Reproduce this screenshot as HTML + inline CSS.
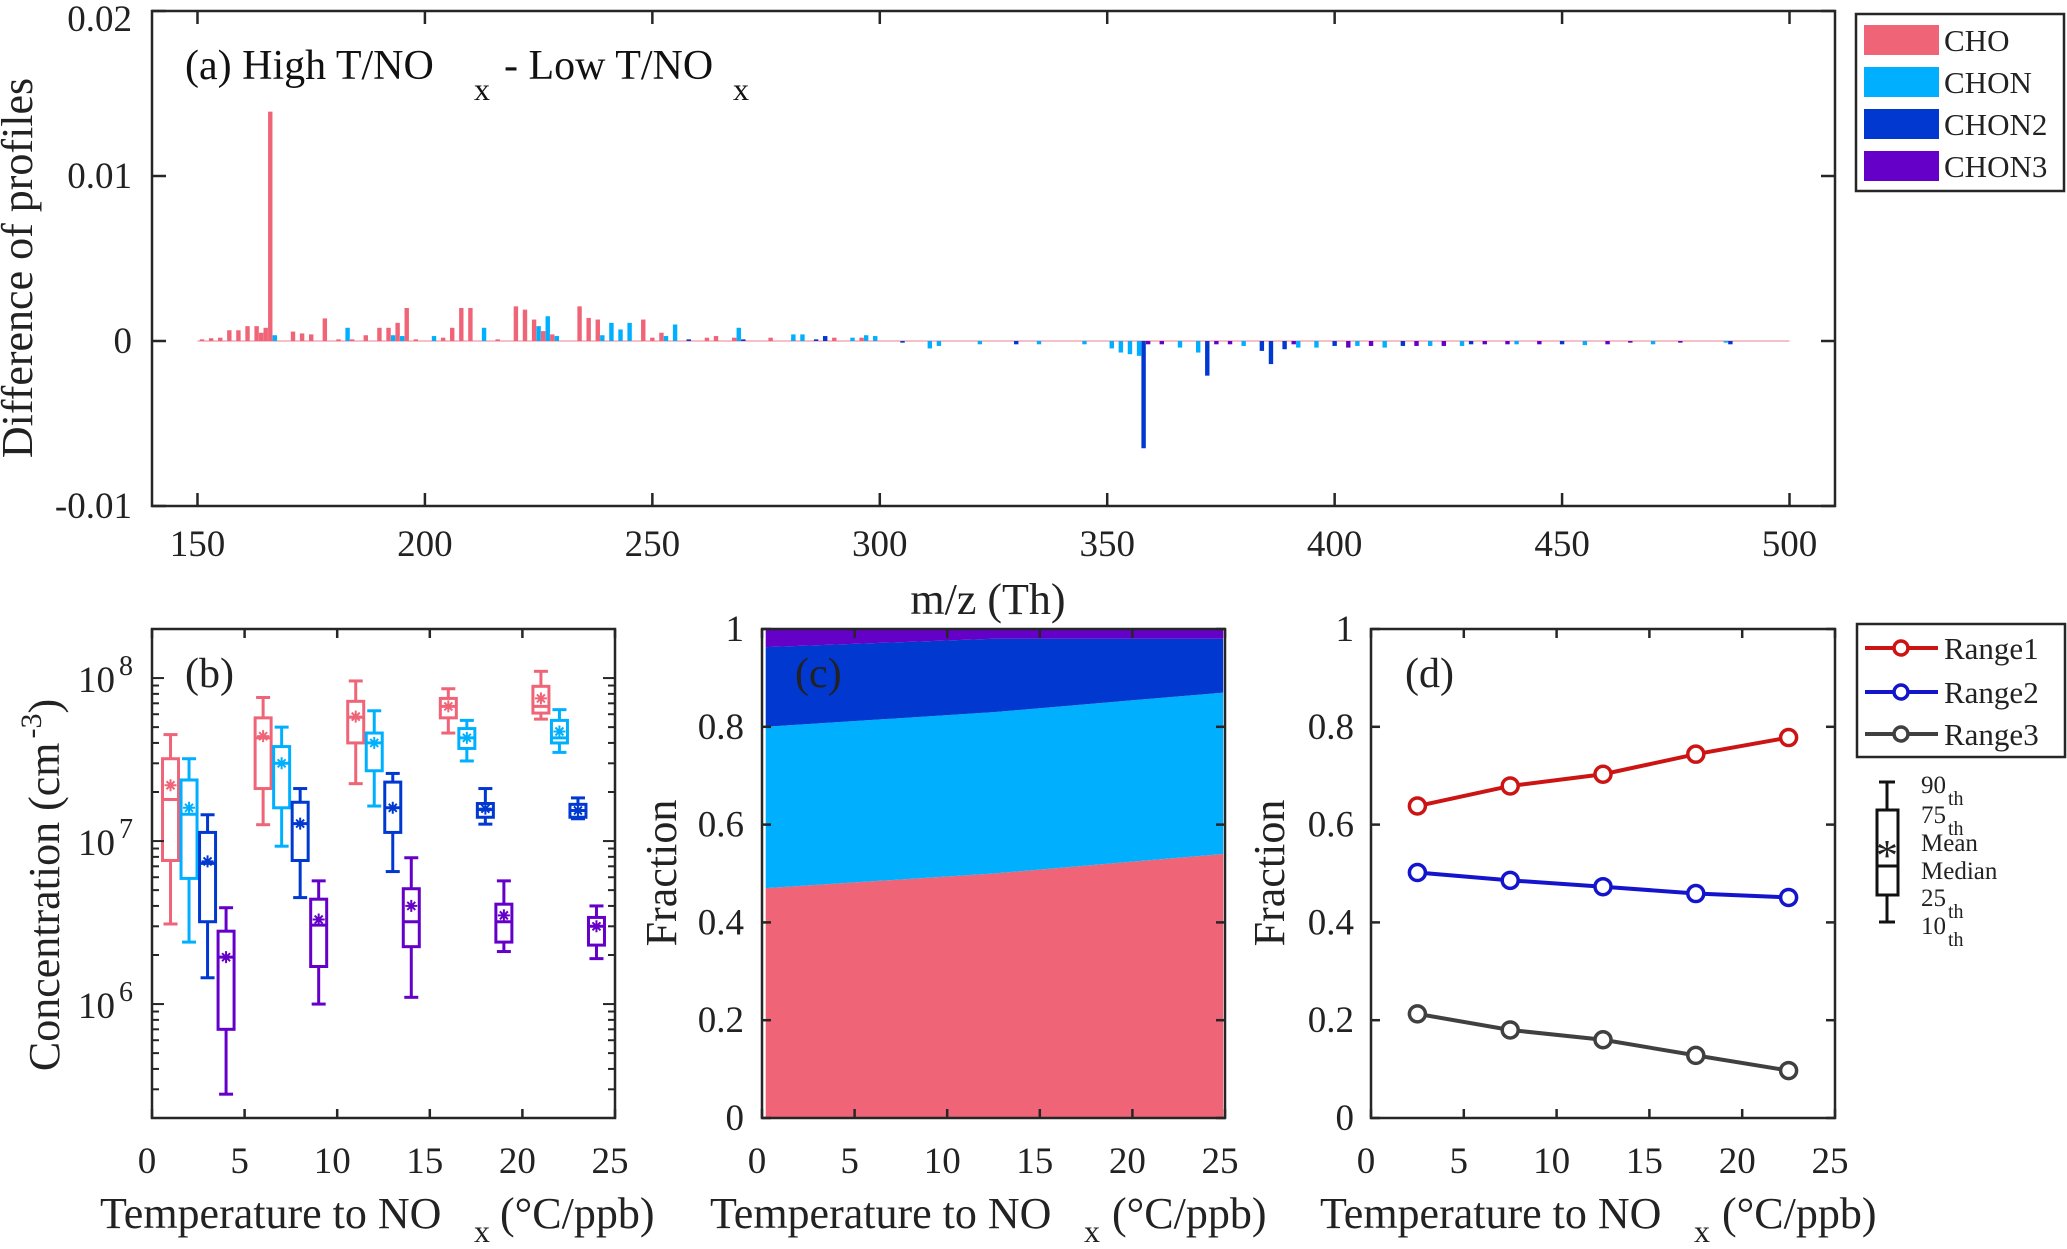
<!DOCTYPE html>
<html><head><meta charset="utf-8"><style>
body{margin:0;background:#fff}
svg{display:block;font-family:"Liberation Serif",serif}
</style></head><body>
<svg id="fig" width="2067" height="1249" viewBox="0 0 2067 1249" xmlns="http://www.w3.org/2000/svg"></svg>
<script>
// ---------- Panel (a) data ----------
const choMz  = [151,153,155,157,159,161,163,164,165,166,171,173,175,178,181,184,187,190,192,194,196,198,204,206,208,210,216,220,222,224,226,228,234,236,238,248,250,252,262,264,268,276,281,290,296];
const choVal = [0.0001,0.00017,0.0002,0.00065,0.00065,0.0009,0.0009,0.0005,0.0008,0.0139,0.00057,0.00046,0.0004,0.00137,0.0001,0.0001,0.00035,0.0008,0.0008,0.0011,0.002,0.0001,0.0002,0.0008,0.002,0.002,0.0001,0.0021,0.0019,0.0013,0.0006,0.0004,0.0021,0.0014,0.0013,0.0013,0.0002,0.0005,0.0002,0.0003,0.0002,0.0002,0.0002,0.0002,0.0002];
const chonMz  = [167,183,193,195,202,213,225,227,229,239,241,243,245,253,255,269,281,283,294,297,299,311,313,322,335,345,351,353,355,357,366,370,380,392,396,405,411,421,428,440,455,470,486];
const chonVal = [0.00035,0.0008,0.00035,0.0003,0.0003,0.0008,0.0009,0.0015,0.0003,0.00035,0.0011,0.0007,0.0011,0.0003,0.001,0.0008,0.0004,0.0004,0.0002,0.00035,0.0003,-0.00045,-0.0003,-0.0002,-0.0002,-0.0002,-0.00045,-0.0007,-0.0008,-0.0009,-0.0004,-0.0007,-0.0003,-0.0004,-0.0004,-0.0003,-0.0004,-0.0003,-0.0003,-0.0002,-0.00025,-0.0002,-0.0001];
const chon2Mz  = [258,270,286,288,305,330,358,372,384,386,389,400,415,430,450,487];
const chon2Val = [0.0001,0.0001,0.0001,0.0003,-0.0001,-0.0002,-0.0065,-0.0021,-0.0006,-0.0014,-0.0005,-0.0003,-0.0003,-0.0002,-0.0002,-0.0002];
const chon3Mz  = [359,362,374,377,391,403,408,418,424,433,438,445,460,465,476];
const chon3Val = [-0.0002,-0.0002,-0.0002,-0.0002,-0.0002,-0.0004,-0.0003,-0.0003,-0.0003,-0.0002,-0.0002,-0.0002,-0.0002,-0.0001,-0.0001];
const aXTicks = [150,200,250,300,350,400,450,500];
const aYTicks = [-0.01,0,0.01,0.02];
const aYTickLabels = ["-0.01","0","0.01","0.02"];

// ---------- Panel (b) data: [p10, p25, median, mean, p75, p90] ----------
const bGroupsX = [[1,2,3,4],[6,7,8,9],[11,12,13,14],[16,17,18,19],[21,22,23,24]];
const bCHO   = [[3.1e6,7.6e6,1.8e7,2.2e7,3.2e7,4.5e7],[1.26e7,2.1e7,4.3e7,4.4e7,5.7e7,7.6e7],[2.25e7,4e7,5.75e7,5.8e7,7.2e7,9.6e7],[4.6e7,5.7e7,6.7e7,6.7e7,7.5e7,8.6e7],[5.6e7,6.1e7,6.7e7,7.5e7,8.9e7,1.1e8]];
const bCHON  = [[2.4e6,5.9e6,1.46e7,1.6e7,2.37e7,3.2e7],[9.3e6,1.6e7,3e7,3e7,3.8e7,5e7],[1.64e7,2.7e7,4e7,4e7,4.6e7,6.3e7],[3.1e7,3.7e7,4.3e7,4.3e7,4.9e7,5.5e7],[3.5e7,4e7,4.3e7,4.7e7,5.5e7,6.4e7]];
const bCHON2 = [[1.45e6,3.2e6,7.3e6,7.5e6,1.13e7,1.45e7],[4.5e6,7.6e6,1.28e7,1.28e7,1.73e7,2.1e7],[6.5e6,1.13e7,1.6e7,1.6e7,2.3e7,2.6e7],[1.27e7,1.4e7,1.56e7,1.58e7,1.7e7,2.1e7],[1.37e7,1.4e7,1.54e7,1.54e7,1.68e7,1.84e7]];
const bCHON3 = [[2.8e5,7e5,1.94e6,1.94e6,2.8e6,3.9e6],[1e6,1.7e6,3.05e6,3.3e6,4.4e6,5.7e6],[1.1e6,2.25e6,3.2e6,4e6,5.1e6,7.9e6],[2.1e6,2.4e6,3.2e6,3.5e6,4.1e6,5.7e6],[1.9e6,2.3e6,3e6,3e6,3.4e6,4e6]];
const bXTicks = [0,5,10,15,20,25];

// ---------- Panel (c) data ----------
const cX = [0.2,12.5,24.9];
const cCHO = [0.47,0.50,0.54];
const cCHON = [0.33,0.33,0.33];
const cCHON2 = [0.163,0.15,0.11];
const cCHON3 = [0.037,0.02,0.02];
const fracTicks = [0,0.2,0.4,0.6,0.8,1];
const fracTickLabels = ["0","0.2","0.4","0.6","0.8","1"];

// ---------- Panel (d) data ----------
const dX = [2.5,7.5,12.5,17.5,22.5];
const dRange1 = [0.638,0.679,0.703,0.744,0.778];
const dRange2 = [0.502,0.486,0.473,0.459,0.451];
const dRange3 = [0.213,0.180,0.160,0.128,0.097];

const C = {cho:"#f06478",chon:"#00b0ff",chon2:"#0038d0",chon3:"#6400c8",ax:"#262626"};
const TICK = 37, TITLE = 44;
const svg = document.getElementById('fig');
const NS = "http://www.w3.org/2000/svg";
function el(tag, attrs, parent){
  const e = document.createElementNS(NS, tag);
  for (const k in attrs) e.setAttribute(k, attrs[k]);
  (parent||svg).appendChild(e);
  return e;
}
function txt(s, x, y, size, anchor, parent){
  const t = el('text',{x:x,y:y,'font-size':size,'text-anchor':anchor||'start',fill:'#222'},parent);
  t.textContent = s;
  return t;
}
function xTitle(x0, xs, xp, y, parent){
  const t = el('text',{x:x0,y:y,'font-size':TITLE,fill:'#222'},parent);
  
  
  const a = el('tspan',{},t); a.textContent = "Temperature to NO";
  const b = el('tspan',{x:xs,y:y+14,'font-size':32},t); b.textContent = "x";
  const c = el('tspan',{x:xp,y:y},t); c.textContent = "(°C/ppb)";
}

// ================= Panel (a) =================
const ga = el('g',{});


const A = {l:152,r:1835,t:11,b:506,x0:140,x1:510,y0:-0.01,y1:0.02};
const ax = v => A.l + (v-A.x0)/(A.x1-A.x0)*(A.r-A.l);
const ay = v => A.b - (v-A.y0)/(A.y1-A.y0)*(A.b-A.t);
function drawBars(mz, vals, color, name){
  const g = el('g',{},ga);
  
  
  for (let i=0;i<mz.length;i++){
    const y0 = ay(0), y1 = ay(vals[i]);
    const r = el('rect',{x:ax(mz[i])-2.2,y:Math.min(y0,y1),width:4.4,height:Math.max(1.5,Math.abs(y1-y0)),fill:color},g);
    
    
  }
}
el('line',{x1:ax(150),x2:ax(500),y1:ay(0),y2:ay(0),stroke:'#f6c0c8','stroke-width':2},ga);
drawBars(choMz, choVal, C.cho, 'cho-series');
drawBars(chonMz, chonVal, C.chon, 'chon-series');
drawBars(chon2Mz, chon2Val, C.chon2, 'chon2-series');
drawBars(chon3Mz, chon3Val, C.chon3, 'chon3-series');
el('rect',{x:A.l,y:A.t,width:A.r-A.l,height:A.b-A.t,fill:'none',stroke:C.ax,'stroke-width':2.5},ga);
aXTicks.forEach(v=>{
  el('line',{x1:ax(v),x2:ax(v),y1:A.b,y2:A.b-13,stroke:C.ax,'stroke-width':2.5},ga);
  el('line',{x1:ax(v),x2:ax(v),y1:A.t,y2:A.t+13,stroke:C.ax,'stroke-width':2.5},ga);
  const t = txt(String(v), ax(v), 556, TICK, 'middle', ga);
  
  
});
aYTicks.forEach((v,i)=>{
  el('line',{x1:A.l,x2:A.l+14,y1:ay(v),y2:ay(v),stroke:C.ax,'stroke-width':2.5},ga);
  el('line',{x1:A.r,x2:A.r-14,y1:ay(v),y2:ay(v),stroke:C.ax,'stroke-width':2.5},ga);
  const t = txt(aYTickLabels[i], 132, ay(v)+12+(i==3?8:0), TICK, 'end', ga);
  
  
});
{
  const t = el('text',{x:0,y:0,'font-size':TITLE,'text-anchor':'middle',fill:'#222',transform:'translate(32,268) rotate(-90)'},ga);
  t.textContent = "Difference of profiles";
  
  
  const m = txt("m/z (Th)", 988, 614, TITLE, 'middle', ga);
  
  
  const ti = el('text',{x:185,y:79,'font-size':42,fill:'#111'},ga);
  
  
  const p1 = el('tspan',{},ti); p1.textContent = "(a)  High T/NO";
  const p2 = el('tspan',{x:474,y:100,'font-size':32},ti); p2.textContent = "x";
  const p3 = el('tspan',{x:504,y:79},ti); p3.textContent = "- Low T/NO";
  const p4 = el('tspan',{x:733,y:100,'font-size':32},ti); p4.textContent = "x";
}
// legend a
{
  const g = el('g',{});
  
  
  el('rect',{x:1856,y:14,width:208,height:177,fill:'#fff',stroke:C.ax,'stroke-width':2.5},g);
  const names = ["CHO","CHON","CHON2","CHON3"], cols=[C.cho,C.chon,C.chon2,C.chon3], ys=[40,82,124,166];
  names.forEach((n,i)=>{
    const e = el('g',{},g);
    
    
    el('rect',{x:1864,y:ys[i]-15,width:75,height:30,fill:cols[i]},e);
    txt(n, 1944, ys[i]+11, 31, 'start', e);
  });
}

// ================= Panel (b) =================
const gb = el('g',{});


const B = {l:152,r:615,t:629,b:1118,x0:0,x1:25,ly0:Math.log10(2e5),ly1:Math.log10(2e8)};
const bx = v => B.l + (v-B.x0)/(B.x1-B.x0)*(B.r-B.l);
const by = v => B.b - (Math.log10(v)-B.ly0)/(B.ly1-B.ly0)*(B.b-B.t);
const bSeries = [[bCHO,C.cho,'cho'],[bCHON,C.chon,'chon'],[bCHON2,C.chon2,'chon2'],[bCHON3,C.chon3,'chon3']];
bSeries.forEach(([data,color,name],si)=>{
  data.forEach((st,gi)=>{
    const x = bx(bGroupsX[gi][si]);
    const g = el('g',{stroke:color,'stroke-width':3,fill:'none'},gb);
    
    
    const [p10,p25,med,mean,p75,p90] = st;
    const hw = 8, cw = 7;
    el('line',{x1:x,x2:x,y1:by(p90),y2:by(p75)},g);
    el('line',{x1:x,x2:x,y1:by(p25),y2:by(p10)},g);
    el('line',{x1:x-cw,x2:x+cw,y1:by(p90),y2:by(p90)},g);
    el('line',{x1:x-cw,x2:x+cw,y1:by(p10),y2:by(p10)},g);
    el('rect',{x:x-hw,y:by(p75),width:2*hw,height:Math.max(2,by(p25)-by(p75))},g);
    el('line',{x1:x-hw,x2:x+hw,y1:by(med),y2:by(med)},g);
    const my = by(mean);
    el('path',{d:`M${x-6} ${my}H${x+6}M${x-4} ${my-4}L${x+4} ${my+4}M${x-4} ${my+4}L${x+4} ${my-4}M${x} ${my-6}V${my+6}`,'stroke-width':2},g);
  });
});
el('rect',{x:B.l,y:B.t,width:B.r-B.l,height:B.b-B.t,fill:'none',stroke:C.ax,'stroke-width':2.5},gb);
bXTicks.forEach(v=>{
  el('line',{x1:bx(v),x2:bx(v),y1:B.b,y2:B.b-9,stroke:C.ax,'stroke-width':2.5},gb);
  el('line',{x1:bx(v),x2:bx(v),y1:B.t,y2:B.t+9,stroke:C.ax,'stroke-width':2.5},gb);
  const t = txt(String(v), bx(v)-5, 1173, TICK, 'middle', gb);
  
  
});
for (let d=5; d<=8; d++){
  for (let m=1;m<=9;m++){
    const v = m*Math.pow(10,d);
    if (v<2e5||v>2e8) continue;
    const L = m==1?12:7;
    el('line',{x1:B.l,x2:B.l+L,y1:by(v),y2:by(v),stroke:C.ax,'stroke-width':2},gb);
    el('line',{x1:B.r,x2:B.r-L,y1:by(v),y2:by(v),stroke:C.ax,'stroke-width':2},gb);
  }
}
[6,7,8].forEach(p=>{
  const t = el('text',{x:78,y:by(Math.pow(10,p))+14,'font-size':TICK,fill:'#222'},gb);
  
  
  const a = el('tspan',{},t); a.textContent="10";
  const b = el('tspan',{dx:4,dy:-17,'font-size':28},t); b.textContent=String(p);
});
{
  const t = el('text',{x:0,y:0,'font-size':TITLE,'text-anchor':'middle',fill:'#222',transform:'translate(59,885) rotate(-90)'},gb);
  
  
  const a = el('tspan',{},t); a.textContent="Concentration (cm";
  const b = el('tspan',{dy:-18,dx:4,'font-size':30},t); b.textContent="-3";
  const c = el('tspan',{dy:18},t); c.textContent=")";
  const l = txt("(b)", 185, 687, 42, 'start', gb);
  
  
  xTitle(100, 474, 500, 1228, gb);
}

// ================= Panel (c) =================
const gc = el('g',{});


const Cp = {l:762,r:1225,t:629,b:1118};
const cxf = v => Cp.l + v/25*(Cp.r-Cp.l);
const cyf = v => Cp.b - v*(Cp.b-Cp.t);
{
  let base = cX.map(()=>0);
  [[cCHO,C.cho,'cho'],[cCHON,C.chon,'chon'],[cCHON2,C.chon2,'chon2'],[cCHON3,C.chon3,'chon3']].forEach(([vals,col,name])=>{
    const top = base.map((b,i)=>b+vals[i]);
    let d = '';
    cX.forEach((x,i)=>{ d += (i?'L':'M')+cxf(x)+' '+cyf(Math.min(1,top[i])); });
    for (let i=cX.length-1;i>=0;i--) d += 'L'+cxf(cX[i])+' '+cyf(base[i]);
    const p = el('path',{d:d+'Z',fill:col},gc);
    
    
    base = top;
  });
}
el('rect',{x:Cp.l,y:Cp.t,width:Cp.r-Cp.l,height:Cp.b-Cp.t,fill:'none',stroke:C.ax,'stroke-width':2.5},gc);
bXTicks.forEach(v=>{
  el('line',{x1:cxf(v),x2:cxf(v),y1:Cp.b,y2:Cp.b-9,stroke:C.ax,'stroke-width':2.5},gc);
  el('line',{x1:cxf(v),x2:cxf(v),y1:Cp.t,y2:Cp.t+9,stroke:C.ax,'stroke-width':2.5},gc);
  const t = txt(String(v), cxf(v)-5, 1173, TICK, 'middle', gc);
  
  
});
fracTicks.forEach((v,i)=>{
  el('line',{x1:Cp.l,x2:Cp.l+9,y1:cyf(v),y2:cyf(v),stroke:C.ax,'stroke-width':2.5},gc);
  el('line',{x1:Cp.r,x2:Cp.r-9,y1:cyf(v),y2:cyf(v),stroke:C.ax,'stroke-width':2.5},gc);
  const t = txt(fracTickLabels[i], 744, cyf(v)+12, TICK, 'end', gc);
  
  
});
{
  const t = el('text',{x:0,y:0,'font-size':TITLE,'text-anchor':'middle',fill:'#222',transform:'translate(676,873) rotate(-90)'},gc);
  t.textContent="Fraction";
  
  
  const l = txt("(c)", 795, 687, 42, 'start', gc);
  
  
  xTitle(710, 1084, 1112, 1228, gc);
}

// ================= Panel (d) =================
const gd = el('g',{});


const D = {l:1371,r:1835,t:629,b:1118};
const dxf = v => D.l + v/25*(D.r-D.l);
const dyf = v => D.b - v*(D.b-D.t);
[[dRange1,'#cc1414','range1'],[dRange2,'#1414cc','range2'],[dRange3,'#404040','range3']].forEach(([vals,col,name])=>{
  const g = el('g',{},gd);
  
  
  el('polyline',{points:dX.map((x,i)=>dxf(x)+','+dyf(vals[i])).join(' '),fill:'none',stroke:col,'stroke-width':4},g);
  dX.forEach((x,i)=>{
    const c = el('circle',{cx:dxf(x),cy:dyf(vals[i]),r:8,fill:'#fff',stroke:col,'stroke-width':3.5},g);
    
    
  });
});
el('rect',{x:D.l,y:D.t,width:D.r-D.l,height:D.b-D.t,fill:'none',stroke:C.ax,'stroke-width':2.5},gd);
bXTicks.forEach(v=>{
  el('line',{x1:dxf(v),x2:dxf(v),y1:D.b,y2:D.b-9,stroke:C.ax,'stroke-width':2.5},gd);
  el('line',{x1:dxf(v),x2:dxf(v),y1:D.t,y2:D.t+9,stroke:C.ax,'stroke-width':2.5},gd);
  const t = txt(String(v), dxf(v)-5, 1173, TICK, 'middle', gd);
  
  
});
fracTicks.forEach((v,i)=>{
  el('line',{x1:D.l,x2:D.l+9,y1:dyf(v),y2:dyf(v),stroke:C.ax,'stroke-width':2.5},gd);
  el('line',{x1:D.r,x2:D.r-9,y1:dyf(v),y2:dyf(v),stroke:C.ax,'stroke-width':2.5},gd);
  const t = txt(fracTickLabels[i], 1354, dyf(v)+12, TICK, 'end', gd);
  
  
});
{
  const t = el('text',{x:0,y:0,'font-size':TITLE,'text-anchor':'middle',fill:'#222',transform:'translate(1284,873) rotate(-90)'},gd);
  t.textContent="Fraction";
  
  
  const l = txt("(d)", 1405, 687, 42, 'start', gd);
  
  
  xTitle(1320, 1694, 1722, 1228, gd);
}
// legend d
{
  const g = el('g',{});
  
  
  el('rect',{x:1857,y:624,width:208,height:133,fill:'#fff',stroke:C.ax,'stroke-width':2.5},g);
  [["Range1",'#cc1414',648],["Range2",'#1414cc',692],["Range3",'#404040',734]].forEach(([n,col,y])=>{
    const e = el('g',{},g);
    
    
    el('line',{x1:1865,x2:1938,y1:y,y2:y,stroke:col,'stroke-width':4},e);
    el('circle',{cx:1901,cy:y,r:7,fill:'#fff',stroke:col,'stroke-width':3.5},e);
    txt(n, 1944, y+11, 31, 'start', e);
  });
}
// box legend
{
  const g = el('g',{});
  
  
  const s = {stroke:'#111','stroke-width':3,fill:'none'};
  el('line',Object.assign({x1:1887,x2:1887,y1:782,y2:810},s),g);
  el('line',Object.assign({x1:1887,x2:1887,y1:895,y2:922},s),g);
  el('line',Object.assign({x1:1879,x2:1895,y1:782,y2:782},s),g);
  el('line',Object.assign({x1:1879,x2:1895,y1:922,y2:922},s),g);
  el('rect',Object.assign({x:1877,y:810,width:21,height:85},s),g);
  el('line',Object.assign({x1:1877,x2:1898,y1:866,y2:866},s),g);
  txt("*", 1887, 870, 44, 'middle', g);
  [["90",793,true],["75",823,true],["Mean",851,false],["Median",879,false],["25",906,true],["10",934,true]].forEach(([l,y,th])=>{
    const t = el('text',{x:1921,y:y,'font-size':25,fill:'#222'},g);
    const a = el('tspan',{},t); a.textContent=l;
    if (th){ const b = el('tspan',{dx:2,dy:12,'font-size':20},t); b.textContent="th"; }
  });
}
</script>
</body></html>
